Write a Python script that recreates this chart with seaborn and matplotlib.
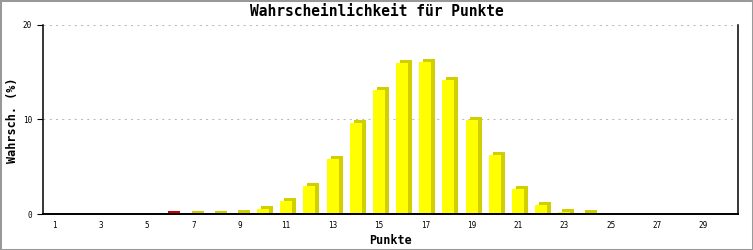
import matplotlib
matplotlib.use("Agg")
import matplotlib.pyplot as plt
import matplotlib.transforms as mtrans
from matplotlib.patches import Rectangle
import seaborn as sns

# ---- data ----
punkte = list(range(1, 31))
wahrsch_gelb = [0, 0, 0, 0, 0, 0, 0.02, 0.02, 0.1, 0.5,
                1.4, 3.0, 5.8, 9.6, 13.1, 16.0, 16.1, 14.2, 9.95, 6.2,
                2.6, 1.0, 0.2, 0.12, 0, 0, 0, 0, 0, 0]
wahrsch_rot = [0, 0, 0, 0, 0, 0.02, 0, 0, 0.05, 0.05,
               0, 0, 0, 0, 0, 0, 0, 0, 0, 0,
               0, 0, 0, 0, 0, 0, 0, 0, 0, 0]
y_ticks = [0, 10, 20]
x_ticks = list(range(1, 30, 2))

title = "Wahrscheinlichkeit für Punkte"
x_label = "Punkte"
y_label = "Wahrsch. (%)"

sns.set_theme(style="white")
plt.rcParams["font.family"] = ["DejaVu Sans Mono", "DejaVu Sans"]

W, H, DPI = 753, 250, 100
fig = plt.figure(figsize=(W / DPI, H / DPI), dpi=DPI)
fig.patch.set_facecolor("white")
ax = fig.add_axes([43 / W, 1 - 214 / H, (738 - 43) / W, (214 - 25) / H])
ax.set_facecolor("white")
ax.set_xlim(0.5, 30.5)
ax.set_ylim(0, 20)

DX, DY = 4, 3  # 3D depth in pixels
shift_x = mtrans.ScaledTranslation(DX / DPI, 0, fig.dpi_scale_trans)


def depth_in_data():
    inv = ax.transData.inverted()
    p0 = inv.transform((0, 0))
    p1 = inv.transform((0, DY))
    return p1[1] - p0[1]


def bars(values, front, side, z):
    n0 = len(ax.patches)
    sns.barplot(x=punkte, y=values, native_scale=True, width=0.52, color=side,
                saturation=1, errorbar=None, linewidth=0, ax=ax)
    dy = depth_in_data()
    for p, v in zip(ax.patches[n0:], values):
        p.set_height(p.get_height() + dy)
        p.set_transform(ax.transData + shift_x)
        p.set_zorder(z)
        p.set_clip_on(False)
        if v <= 0:
            p.set_visible(False)
    n1 = len(ax.patches)
    sns.barplot(x=punkte, y=values, native_scale=True, width=0.52, color=front,
                saturation=1, errorbar=None, linewidth=0, ax=ax)
    for p, v in zip(ax.patches[n1:], values):
        p.set_zorder(z + 1)
        p.set_clip_on(False)
        if v <= 0:
            p.set_visible(False)


bars(wahrsch_rot, "#ff0000", "#cc0000", 3)
bars(wahrsch_gelb, "#ffff00", "#d2cf00", 5)

ax.set_xlim(0.5, 30.5)
ax.set_ylim(0, 20)
ax.set_xticks(x_ticks)
ax.set_xticklabels([str(t) for t in x_ticks])
ax.set_yticks(y_ticks)
ax.set_yticklabels([str(t) for t in y_ticks])
ax.set_xlabel("")
ax.set_ylabel("")

for yv in y_ticks[1:]:
    ax.axhline(yv, color="#bbbbbb", lw=0.75, linestyle=(0, (2, 4)), zorder=1)

for s in ["left", "bottom", "right"]:
    ax.spines[s].set_visible(True)
    ax.spines[s].set_color("black")
    ax.spines[s].set_linewidth(1.1)
ax.spines["bottom"].set_linewidth(1.4)
ax.spines["top"].set_visible(False)
for s in ax.spines.values():
    s.set_zorder(10)

ax.tick_params(axis="y", which="both", left=True, length=4, width=0.8,
               color="black", pad=4, labelsize=5.5, labelcolor="black")
ax.tick_params(axis="x", which="both", bottom=False, length=0, pad=5,
               labelsize=5.5, labelcolor="black")
ax.grid(False)

fig.text(376.5 / W, 1 - 12 / H, title, ha="center", va="center",
         fontsize=10.5, fontweight="bold", color="black")
fig.text(390.5 / W, 1 - 240 / H, x_label, ha="center", va="center",
         fontsize=8.5, fontweight="bold", color="black")
fig.text(13 / W, 1 - 120 / H, y_label, ha="center", va="center",
         rotation=90, fontsize=8.5, fontweight="bold", color="black")

fig.patches.append(Rectangle((0, 0), 1, 1, transform=fig.transFigure,
                             fill=False, edgecolor="#999999", lw=2.2,
                             zorder=20))

fig.savefig("out.png", dpi=DPI)
